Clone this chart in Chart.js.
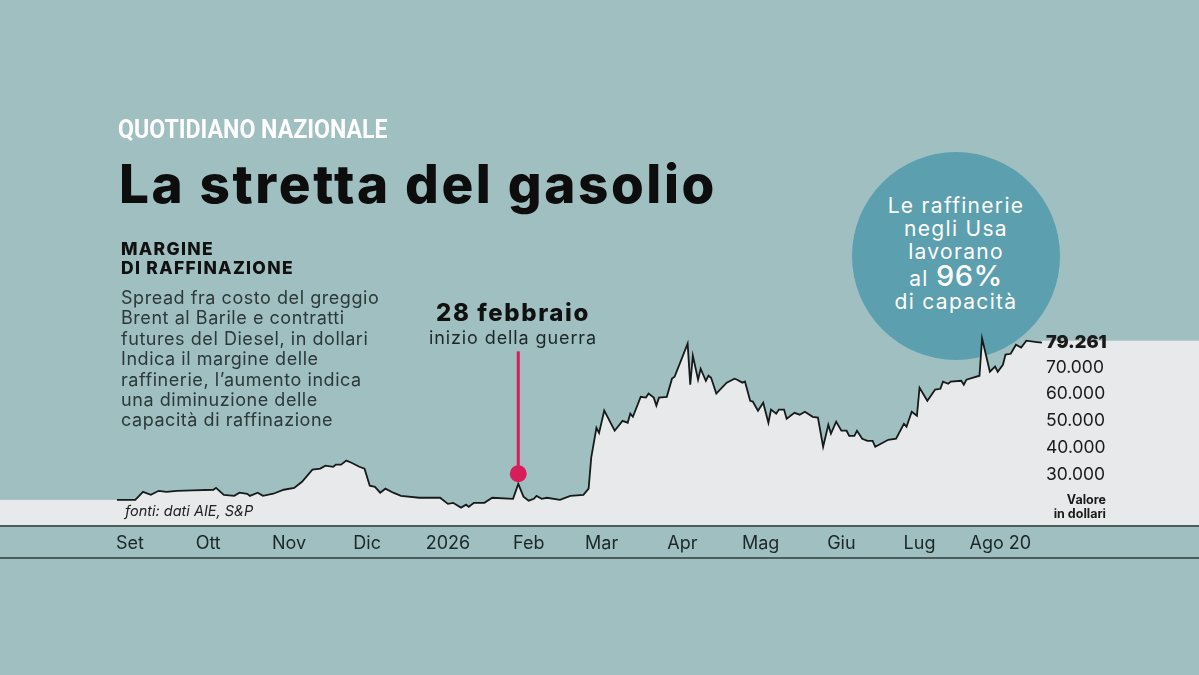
<!DOCTYPE html>
<html lang="it">
<head>
<meta charset="utf-8">
<title>La stretta del gasolio</title>
<script src="https://cdn.jsdelivr.net/npm/chart.js@4.4.1/dist/chart.umd.min.js"></script>
<style>
  html, body { margin: 0; padding: 0; }
  body {
    width: 1199px; height: 675px; overflow: hidden; position: relative;
    background: #9fbfc1; font-family: Inter, "Open Sans", sans-serif; color: #1c2728;
  }
  .abs { position: absolute; white-space: nowrap; }
  .brand {
    left: 118px; top: 114px; font-family: Roboto, sans-serif; font-weight: 700;
    font-size: 26px; color: #fff; transform: scaleX(0.89); transform-origin: left top;
  }
  .title { left: 119px; top: 152px; font-size: 53px; font-weight: 800; letter-spacing: 2.6px; color: #0d0d0d; }
  .kicker { left: 121px; top: 239px; font-size: 17.5px; font-weight: 800; line-height: 19px; letter-spacing: 1.3px; color: #111; }
  .desc { left: 121px; top: 288px; font-size: 18px; line-height: 20.4px; letter-spacing: 0.55px; color: #2c3839; }
  .event-date { left: 413px; top: 298px; width: 200px; text-align: center; font-size: 24px; font-weight: 800; letter-spacing: 1.6px; color: #111; }
  .event-sub { left: 413px; top: 327px; width: 200px; text-align: center; font-size: 18px; letter-spacing: 0.9px; color: #1d2728; }
  .bubble {
    left: 852px; top: 152px; width: 208px; height: 208px; border-radius: 50%;
    background: #5c9fae; color: #fff; text-align: center;
  }
  .bubble div { position: absolute; left: 0; width: 208px; top: 42px; font-size: 21px; line-height: 23.2px; letter-spacing: 1.3px; }
  .bubble b { font-size: 29px; font-weight: 500; letter-spacing: 0.5px; }
  .source { left: 125px; top: 502px; font-size: 14.5px; font-style: italic; color: #222; }
  .unit { left: 1000px; top: 493px; width: 106px; text-align: right; font-size: 12.5px; font-weight: 700; line-height: 14px; color: #1a1a1a; }
  .rule { left: 0; width: 1199px; height: 2px; background: #4c5c5d; }
  #wrap { position: absolute; left: 0; top: 0; width: 1199px; height: 675px; }
</style>
</head>
<body>
<div class="abs bubble"><div>Le raffinerie<br>negli Usa<br>lavorano<br>al <b>96%</b><br>di capacità</div></div>

<div id="wrap"><canvas id="chart"></canvas></div>

<div class="abs brand">QUOTIDIANO NAZIONALE</div>
<div class="abs title">La stretta del gasolio</div>
<div class="abs kicker">MARGINE<br>DI RAFFINAZIONE</div>
<div class="abs desc">Spread fra costo del greggio<br>Brent al Barile e contratti<br>futures del Diesel, in dollari<br>Indica il margine delle<br>raffinerie, l’aumento indica<br>una diminuzione delle<br>capacità di raffinazione</div>
<div class="abs event-date">28 febbraio</div>
<div class="abs event-sub">inizio della guerra</div>
<div class="abs source">fonti: dati AIE, S&amp;P</div>
<div class="abs unit">Valore<br>in dollari</div>
<div class="abs rule" style="top:525px"></div>
<div class="abs rule" style="top:557px"></div>

<script>
// giorni dal 1 settembre
const days = [
  -5, 2, 5, 8, 11, 14, 18, 24, 32, 33,
  36, 40, 42, 45, 46, 49, 51, 55, 59, 63,
  66, 70, 73, 75, 78, 79, 81, 83, 85, 88,
  90, 92, 94, 96, 98, 101, 104, 111, 119, 122,
  124, 127, 129, 130, 132, 136, 139, 147, 149, 151,
  153, 155, 156, 158, 160, 165, 169, 174, 176, 177,
  179, 180, 182, 186, 189, 191, 192, 193, 196, 198,
  199, 201, 202, 203, 206, 208, 209, 214, 215, 216,
  218, 219, 221, 222, 223, 225, 229, 232, 233, 235,
  236, 238, 239, 241, 243, 245, 246, 248, 249, 251,
  252, 255, 257, 259, 262, 264, 266, 268, 269, 271,
  273, 275, 276, 278, 279, 281, 283, 285, 286, 291,
  294, 297, 298, 300, 302, 303, 306, 309, 311, 312,
  314, 315, 319, 320, 321, 326, 327, 330, 332, 333,
  335, 336, 338, 340, 342, 344, 348, 350
];
const margin = [
  20400, 20400, 23400, 22300, 23800, 23400, 23800, 24000, 24200, 24900,
  22300, 21900, 23100, 22700, 21900, 23100, 21900, 22700, 24200, 24900,
  27200, 31700, 32100, 33200, 32800, 33600, 33600, 35100, 34300, 32800,
  32100, 25700, 25300, 23100, 24600, 23100, 21900, 21200, 21200, 18900,
  19300, 17500, 18600, 17800, 19300, 19300, 21200, 20800, 26400, 21600,
  20100, 20800, 21900, 20800, 21200, 20400, 21900, 22300, 24600, 36200,
  47400, 45500, 53800, 46300, 50000, 49300, 52700, 51500, 59000, 58700,
  60200, 58700, 55700, 58700, 59000, 65800, 66500, 78900, 63500, 74400,
  65400, 69500, 65000, 66900, 66100, 60200, 64300, 65800, 65400, 64300,
  64700, 57500, 57200, 53800, 56800, 49300, 54200, 52700, 54200, 54200,
  50800, 53000, 52300, 53400, 51500, 51200, 40300, 48500, 45200, 49700,
  46300, 46300, 44400, 44400, 46300, 43300, 42500, 42500, 40300, 42900,
  43300, 48900, 47800, 53400, 51900, 62400, 57500, 61700, 62000, 64700,
  63900, 64700, 65000, 63500, 65400, 66900, 80800, 68400, 70300, 68400,
  71000, 74800, 75100, 78500, 77400, 80000, 79500, 79261
];
const monthDays = [0, 30, 61, 91, 122, 153, 181, 212, 242, 273, 303, 334];
const monthLabels = ['Set', 'Ott', 'Nov', 'Dic', '2026', 'Feb', 'Mar', 'Apr', 'Mag', 'Giu', 'Lug', 'Ago 20'];
const yTicks = [30000, 40000, 50000, 60000, 70000, 79261];

// 28 febbraio
const eventDay = 149;
const eventDot = 30200;
const eventTop = 76000;

const fillColor = '#e8e9eb';
const lastValue = margin[margin.length - 1];

const fmt = v => String(Math.round(v)).replace(/\B(?=(\d{3})+(?!\d))/g, '.');

const points = days.map((d, i) => ({ x: d, y: margin[i] }));

// allunga il riempimento fino ai bordi e disegna il segnaposto
const extras = {
    id: 'extras',
    beforeDraw(chart) {
        const { ctx, chartArea, scales: { y } } = chart;
        ctx.save();
        ctx.fillStyle = fillColor;
        const y0 = y.getPixelForValue(margin[0]);
        ctx.fillRect(0, y0, chartArea.left + 1, chartArea.bottom - y0);
        const y1 = y.getPixelForValue(lastValue) - 2;
        ctx.fillRect(chartArea.right - 1, y1, chart.width - chartArea.right + 1, chartArea.bottom - y1);
        ctx.restore();
    },
    afterDatasetsDraw(chart) {
        const { ctx, scales: { x, y } } = chart;
        const px = x.getPixelForValue(eventDay);
        const pd = y.getPixelForValue(eventDot);
        ctx.save();
        ctx.strokeStyle = '#d81d5b';
        ctx.fillStyle = '#d81d5b';
        ctx.lineWidth = 3;
        ctx.beginPath();
        ctx.moveTo(px, y.getPixelForValue(eventTop));
        ctx.lineTo(px, pd);
        ctx.stroke();
        ctx.beginPath();
        ctx.arc(px, pd, 8.5, 0, Math.PI * 2);
        ctx.fill();
        ctx.restore();
    }
};

new Chart(document.getElementById('chart'), {
    type: 'line',
    data: {
        datasets: [{
            data: points,
            borderColor: '#151a1b',
            borderWidth: 1.8,
            fill: 'start',
            backgroundColor: fillColor,
            pointRadius: 0,
            tension: 0
        }]
    },
    options: {
        responsive: true,
        maintainAspectRatio: false,
        animation: false,
        layout: { padding: { left: 117, top: 314, right: 0, bottom: 0 } },
        plugins: { legend: { display: false }, tooltip: { enabled: false } },
        scales: {
            x: {
                type: 'linear',
                min: -5,
                max: 350,
                grid: { display: false, drawTicks: false },
                border: { display: false },
                afterFit: s => { s.height = 150; },
                afterBuildTicks: s => { s.ticks = monthDays.map(v => ({ value: v })); },
                ticks: {
                    autoSkip: false,
                    maxRotation: 0,
                    padding: 8,
                    color: '#1c2728',
                    font: { family: 'Inter', size: 18 },
                    callback: v => monthLabels[monthDays.indexOf(v)]
                }
            },
            y: {
                position: 'right',
                min: 11000,
                max: 90000,
                grid: { display: false, drawTicks: false },
                border: { display: false },
                afterFit: s => { s.width = 157; },
                afterBuildTicks: s => { s.ticks = yTicks.map(v => ({ value: v })); },
                ticks: {
                    padding: 4,
                    color: '#1a1a1a',
                    font: c => c.tick && c.tick.value === lastValue
                        ? { family: 'Inter', size: 18, weight: '900' }
                        : { family: 'Inter', size: 17.5 },
                    callback: v => fmt(v)
                }
            }
        }
    },
    plugins: [extras]
});
</script>
</body>
</html>
